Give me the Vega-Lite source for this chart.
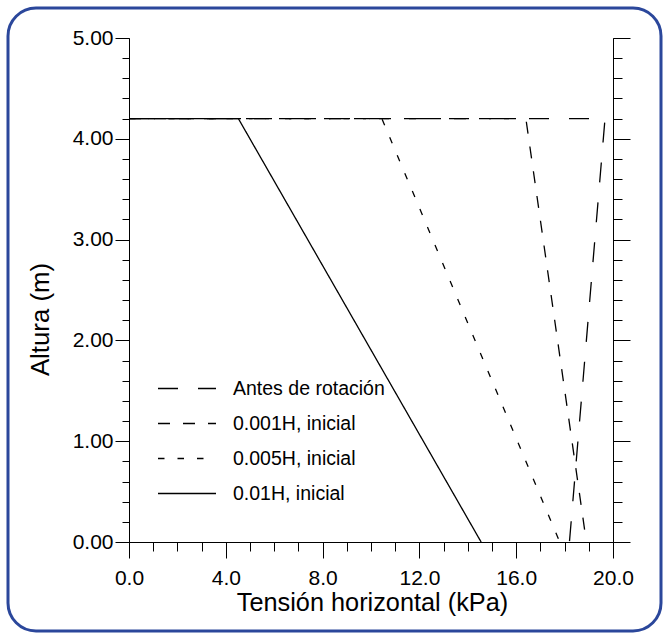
{
  "$schema": "https://vega.github.io/schema/vega-lite/v6.json",
  "autosize": "none",
  "width": 653,
  "height": 623,
  "padding": {"left": 8, "top": 8, "right": 2, "bottom": 4},
  "background": "white",
  "config": {
    "view": {"stroke": "#2b479b", "strokeWidth": 3, "cornerRadius": 28, "fill": "white"},
    "axis": {
      "grid": false, "domainColor": "black", "tickColor": "black", "labelColor": "black", "titleColor": "black",
      "labelFont": "Liberation Sans", "titleFont": "Liberation Sans", "titleFontWeight": "normal",
      "domainWidth": 1, "tickWidth": 1, "labelFlush": false, "labelOverlap": false
    },
    "legend": {"labelFont": "Liberation Sans"}
  },
  "data": {
    "values": [
      {"serie": "Antes de rotación", "p": 0, "x": 0, "y": 4.2},
      {"serie": "Antes de rotación", "p": 1, "x": 19.67, "y": 4.2},
      {"serie": "Antes de rotación", "p": 2, "x": 18.2, "y": 0},
      {"serie": "0.001H, inicial", "p": 0, "x": 0, "y": 4.2},
      {"serie": "0.001H, inicial", "p": 1, "x": 16.4, "y": 4.2},
      {"serie": "0.001H, inicial", "p": 2, "x": 18.9, "y": 0},
      {"serie": "0.005H, inicial", "p": 0, "x": 0, "y": 4.2},
      {"serie": "0.005H, inicial", "p": 1, "x": 10.45, "y": 4.2},
      {"serie": "0.005H, inicial", "p": 2, "x": 17.8, "y": 0},
      {"serie": "0.01H, inicial", "p": 0, "x": 0, "y": 4.2},
      {"serie": "0.01H, inicial", "p": 1, "x": 4.52, "y": 4.2},
      {"serie": "0.01H, inicial", "p": 2, "x": 14.55, "y": 0}
    ]
  },
  "resolve": {"axis": {"x": "independent", "y": "independent"}},
  "layer": [
    {
      "mark": {"type": "line", "color": "black", "strokeWidth": 1.3},
      "encoding": {
        "x": {
          "field": "x", "type": "quantitative",
          "scale": {"domain": [0, 20], "range": [121, 605], "nice": false, "zero": false},
          "axis": {
            "orient": "bottom", "offset": -89, "values": [0, 4, 8, 12, 16, 20], "format": ".1f",
            "tickSize": 16, "labelFontSize": 21, "labelBaseline": "alphabetic", "labelPadding": 26,
            "title": "Tensión horizontal (kPa)", "titleFontSize": 25.3, "titleBaseline": "alphabetic",
            "titleX": 364, "titleY": 68
          }
        },
        "y": {
          "field": "y", "type": "quantitative",
          "scale": {"domain": [0, 5], "range": [534, 30], "nice": false, "zero": false},
          "axis": {
            "orient": "left", "offset": -121, "values": [0, 1, 2, 3, 4, 5], "format": ".2f",
            "tickSize": 14, "labelFontSize": 21, "labelPadding": 2,
            "title": "Altura (m)", "titleFontSize": 25.8, "titleBaseline": "alphabetic", "titleAngle": -90,
            "titleX": -81, "titleY": 311
          }
        },
        "strokeDash": {
          "field": "serie", "type": "nominal",
          "scale": {
            "domain": ["Antes de rotación", "0.001H, inicial", "0.005H, inicial", "0.01H, inicial"],
            "range": [[20, 20], [12, 13], [6.5, 13], [1, 0]]
          },
          "legend": {
            "orient": "none", "legendX": 149, "legendY": 365, "title": null,
            "labelFontSize": 19.5, "labelColor": "black", "symbolType": "M -1 0 H 3", "symbolSize": 841,
            "symbolStrokeWidth": 1.3, "symbolStrokeColor": "black", "symbolFillColor": "transparent", "labelOffset": 45,
            "padding": 0, "rowPadding": 10
          }
        },
        "order": {"field": "p", "type": "quantitative"}
      }
    },
    {
      "mark": {"type": "point", "opacity": 0},
      "encoding": {
        "x": {
          "field": "x", "type": "quantitative",
          "scale": {"domain": [0, 20], "range": [121, 605], "nice": false, "zero": false},
          "axis": {
            "orient": "bottom", "offset": -89, "values": [0,1,2,3,4,5,6,7,8,9,10,11,12,13,14,15,16,17,18,19,20],
            "tickSize": 9, "labels": false, "domain": false, "title": null
          }
        },
        "y": {
          "field": "y", "type": "quantitative",
          "scale": {"domain": [0, 5], "range": [534, 30], "nice": false, "zero": false},
          "axis": {
            "orient": "left", "offset": -121,
            "values": [0,0.2,0.4,0.6,0.8,1,1.2,1.4,1.6,1.8,2,2.2,2.4,2.6,2.8,3,3.2,3.4,3.6,3.8,4,4.2,4.4,4.6,4.8,5],
            "tickSize": 7, "labels": false, "domain": false, "title": null
          }
        }
      }
    },
    {
      "mark": {"type": "point", "opacity": 0},
      "encoding": {
        "x": {
          "field": "x", "type": "quantitative",
          "scale": {"domain": [0, 20], "range": [121, 605], "nice": false, "zero": false},
          "axis": null
        },
        "y": {
          "field": "y", "type": "quantitative",
          "scale": {"domain": [0, 5], "range": [534, 30], "nice": false, "zero": false},
          "axis": {
            "orient": "right", "offset": -48, "values": [0, 1, 2, 3, 4, 5],
            "tickSize": 17, "labels": false, "domain": true, "title": null
          }
        }
      }
    },
    {
      "mark": {"type": "point", "opacity": 0},
      "encoding": {
        "x": {
          "field": "x", "type": "quantitative",
          "scale": {"domain": [0, 20], "range": [121, 605], "nice": false, "zero": false},
          "axis": null
        },
        "y": {
          "field": "y", "type": "quantitative",
          "scale": {"domain": [0, 5], "range": [534, 30], "nice": false, "zero": false},
          "axis": {
            "orient": "right", "offset": -48,
            "values": [0,0.2,0.4,0.6,0.8,1,1.2,1.4,1.6,1.8,2,2.2,2.4,2.6,2.8,3,3.2,3.4,3.6,3.8,4,4.2,4.4,4.6,4.8,5],
            "tickSize": 9, "labels": false, "domain": false, "title": null
          }
        }
      }
    }
  ]
}
